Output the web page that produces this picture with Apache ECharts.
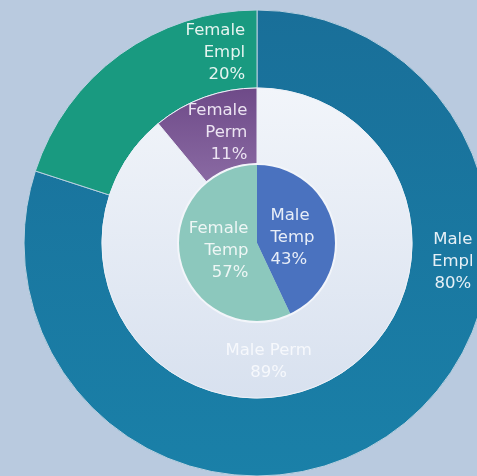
<!DOCTYPE html>
<html><head><meta charset="utf-8">
<script src="https://cdn.jsdelivr.net/npm/echarts@6/dist/echarts.min.js"></script>
<style>html,body{margin:0;padding:0;background:#b9cadf;}#c{width:477px;height:476px;}</style>
</head><body><div id="c"></div>
<script>
const emplNames = ['Male Empl', 'Female Empl'];
const emplValues = [80, 20];
const permNames = ['Male Perm', 'Female Perm'];
const permValues = [89, 11];
const tempNames = ['Male Temp', 'Female Temp'];
const tempValues = [43, 57];

const FONT = 'DejaVu Sans';
function lbl(align, offset, color, oneLineName){
  const st = {width:68, align:align, color:color, fontFamily:FONT, fontSize:16.5, lineHeight:22};
  return {show:true, position:'inside', offset:offset,
    formatter: p => {
      const lines = (oneLineName ? [p.name] : p.name.split(' ')).concat([p.value + '%']);
      return lines.map(s => '{t|' + s + '}').join('\n');
    },
    rich:{t: oneLineName ? Object.assign({}, st, {width:100}) : st}};
}
const C = [257, 243];
const common = {type:'pie', center:C, startAngle:90, clockwise:true, silent:true,
  avoidLabelOverlap:false, labelLayout:{hideOverlap:false}, labelLine:{show:false}};
const chart = echarts.init(document.getElementById('c'));
chart.setOption({
  backgroundColor:'#b9cadf',
  animation:false,
  series:[
    Object.assign({}, common, {radius:[155,233],
     itemStyle:{borderColor:'#b9d0e0', borderWidth:1},
     data:[
       {name:emplNames[0], value:emplValues[0],
        itemStyle:{color:new echarts.graphic.LinearGradient(0,0,0,1,[{offset:0,color:'#196f99'},{offset:1,color:'#1a80a8'}])},
        label:lbl('center',[80,-141],'#e6f0f6')},
       {name:emplNames[1], value:emplValues[1], itemStyle:{color:'#199a80'},
        label:lbl('right',[70,-31],'#e6f4f0')}
     ]}),
    Object.assign({}, common, {radius:[79,155],
     itemStyle:{borderColor:'#eef2f8', borderWidth:1},
     data:[
       {name:permNames[0], value:permValues[0],
        itemStyle:{color:new echarts.graphic.LinearGradient(0,0,0,1,[{offset:0,color:'#f2f5fa'},{offset:1,color:'#d8e1ef'}])},
        label:lbl('center',[-29,6],'#f6f8fc',true)},
       {name:permNames[1], value:permValues[1],
        itemStyle:{color:new echarts.graphic.LinearGradient(0,0,0,1,[{offset:0,color:'#6e4a88'},{offset:1,color:'#8a6aa3'}])},
        label:lbl('right',[-3,3],'#ece4f2')}
     ]}),
    Object.assign({}, common, {radius:[0,79],
     data:[
       {name:tempNames[0], value:tempValues[0], itemStyle:{color:'#4a72bf'},
        label:lbl('left',[6,4],'#e8eef8')},
       {name:tempNames[1], value:tempValues[1], itemStyle:{color:'#8cc8bd'},
        label:lbl('right',[-1,-2],'#eef6f5')}
     ]}),
    {type:'pie', center:C, radius:[78,80], silent:true, label:{show:false}, labelLine:{show:false},
     itemStyle:{color:'#f2f5fa'}, data:[{name:'ring', value:1}]}
  ]
});
</script></body></html>
